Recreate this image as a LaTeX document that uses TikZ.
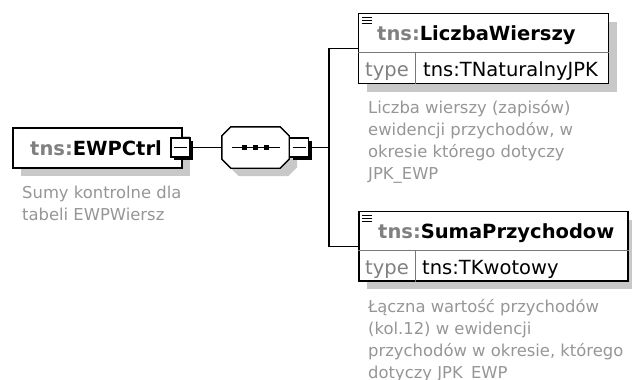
\documentclass[tikz,border=0pt]{standalone}
\usepackage{fontspec}
\setmainfont{DejaVu Sans}
\usetikzlibrary{shadows,calc}
\definecolor{shadowgray}{RGB}{200,200,200}
\definecolor{prefixgray}{RGB}{128,128,128}
\definecolor{descgray}{RGB}{150,150,150}
\definecolor{cellgray}{RGB}{120,120,120}
\newcommand{\nsname}[1]{{\color{prefixgray}tns:}#1}
\newcommand{\namefont}{\fontsize{19.5}{22}\selectfont}
\newcommand{\descfont}{\fontsize{16.4}{22}\selectfont}

\begin{document}
\begin{tikzpicture}[x=1pt,y=-1pt,
	every node/.style={inner sep=0pt},
	elembox/.style={draw, line width=1.4pt, fill=white,
		drop shadow={fill=shadowgray, opacity=1, shadow xshift=8pt, shadow yshift=-8pt}},
	expbox/.style={draw, line width=1.2pt, fill=white, minimum size=19pt,
		drop shadow={fill=black, opacity=1, shadow xshift=3pt, shadow yshift=-3pt}},
	conn/.style={line width=1.4pt},
	cellline/.style={line width=1pt, cellgray},
	elemname/.style={anchor=base west, font=\namefont\bfseries},
	typelabel/.style={anchor=base, font=\namefont, text=prefixgray},
	typevalue/.style={anchor=base west, font=\namefont},
	desctext/.style={anchor=base west, align=left, text=descgray, font=\descfont}]
	\useasboundingbox (0,0) rectangle (632,380);
	\node[elembox, minimum width=169pt, minimum height=40pt] (root) at (97.5,148) {};
	\node[elemname] (rootname) at (30,155) {\nsname{EWPCtrl}};
	\node[expbox] (rootexp) at (180.5,147.5) {};
	\draw[line width=1.2pt] ($(rootexp.center)+(-6.5,0)$) -- ($(rootexp.center)+(6.5,0)$);
	\node[desctext] (rootdesc) at (22,220) {Sumy kontrolne dla\\tabeli EWPWiersz};
	\node[minimum width=67pt, minimum height=41pt] (seq) at (255.5,147.5) {};
	\filldraw[conn, fill=white, drop shadow={fill=shadowgray, opacity=1, shadow xshift=8pt, shadow yshift=-8pt}]
		($(seq.north west)+(9,0)$) -- ($(seq.north east)+(-9,0)$) -- ($(seq.north east)+(0,9)$)
		-- ($(seq.south east)+(0,-9)$) -- ($(seq.south east)+(-9,0)$) -- ($(seq.south west)+(9,0)$)
		-- ($(seq.south west)+(0,-9)$) -- ($(seq.north west)+(0,9)$) -- cycle;
	\draw[line width=1.2pt] ($(seq.west)+(10,0)$) -- ($(seq.east)+(-9,0)$);
	\foreach \dx in {-11,0,11}
		\fill ($(seq.center)+(\dx,0)$) ++(-2.5,-2.5) rectangle ++(5,5);
	\node[expbox] (seqexp) at (299,147.5) {};
	\draw[line width=1.2pt] ($(seqexp.center)+(-6.5,0)$) -- ($(seqexp.center)+(6.5,0)$);
	\coordinate (fork) at (329,147.5);
	\node[elembox, minimum width=250pt, minimum height=70pt] (c1) at (483.5,48.5) {};
	\draw[cellline] ($(c1.north west)+(0,39.5)$) -- ($(c1.north east)+(0,39.5)$);
	\draw[cellline] ($(c1.north west)+(57.5,39.5)$) -- ($(c1.south west)+(57.5,0)$);
	\foreach \dy in {0,3,6}
		\draw[line width=1.3pt] ($(c1.north west)+(4,4.5+\dy)$) -- ++(10,0);
	\node[elemname] (c1name) at (377,40) {\nsname{LiczbaWierszy}};
	\node[typelabel] (c1type) at (387,76) {type};
	\node[typevalue] (c1val) at (423,76) {tns:TNaturalnyJPK};
	\node[desctext] (c1desc) at (368,179) {Liczba wierszy (zapisów)\\ewidencji przychodów, w\\okresie którego dotyczy\\JPK\_EWP};
	\node[elembox, minimum width=269pt, minimum height=69.5pt] (c2) at (493.5,246.25) {};
	\draw[cellline] ($(c2.north west)+(0,39.5)$) -- ($(c2.north east)+(0,39.5)$);
	\draw[cellline] ($(c2.north west)+(57,39.5)$) -- ($(c2.south west)+(57,0)$);
	\foreach \dy in {0,3,6}
		\draw[line width=1.3pt] ($(c2.north west)+(3.5,4.5+\dy)$) -- ++(10,0);
	\node[elemname] (c2name) at (378,238) {\nsname{SumaPrzychodow}};
	\node[typelabel] (c2type) at (387,274) {type};
	\node[typevalue] (c2val) at (422,274) {tns:TKwotowy};
	\node[desctext] (c2desc) at (368,378) {Łączna wartość przychodów\\(kol.12) w ewidencji\\przychodów w okresie, którego\\dotyczy JPK\_EWP};
	\draw[conn] (rootexp.east) -- (seq.west);
	\draw[conn] (seqexp.east) -- (fork);
	\draw[conn] (c1.west) -| (fork) |- (c2.west);
\end{tikzpicture}
\end{document}
